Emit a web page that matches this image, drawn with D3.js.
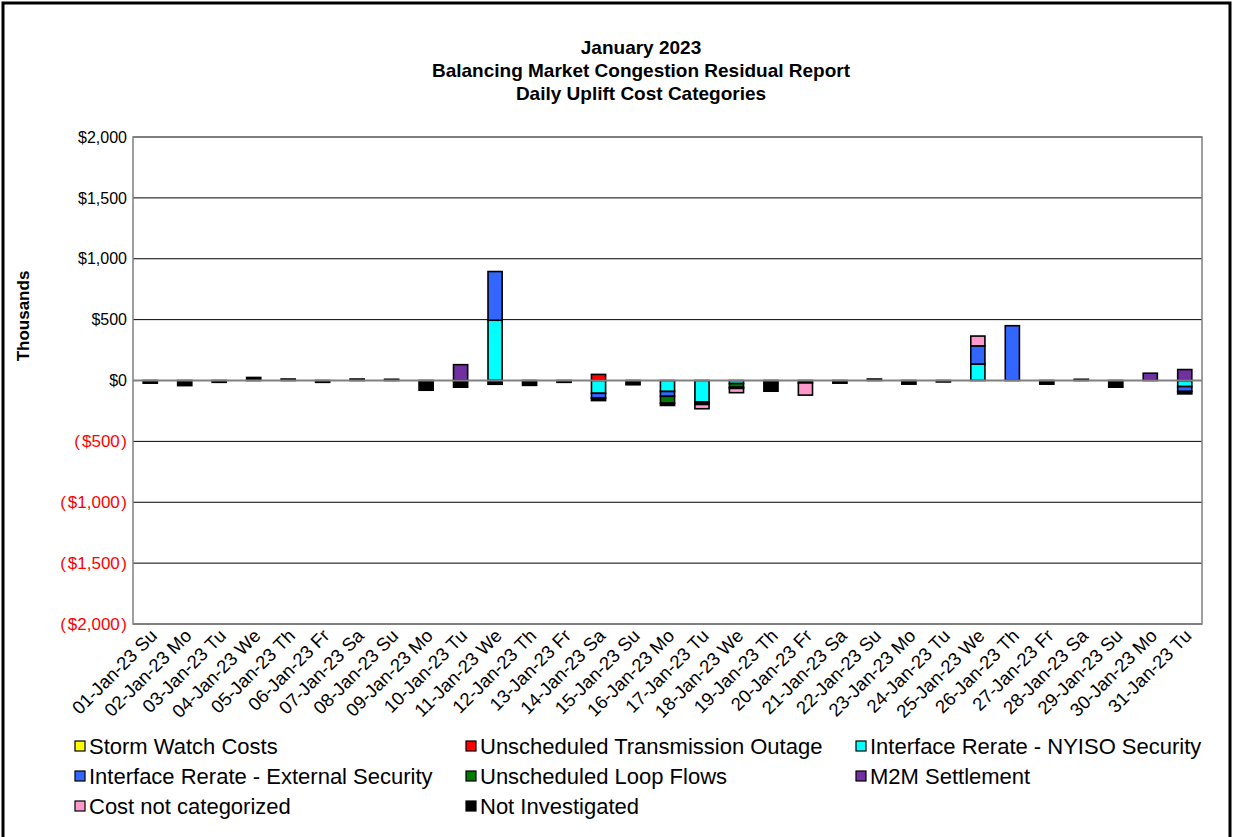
<!DOCTYPE html>
<html>
<head>
<meta charset="utf-8">
<script src="https://cdn.jsdelivr.net/npm/d3@7"></script>
<style>
  html, body { margin: 0; padding: 0; background: #fff; }
  svg { display: block; font-family: "Liberation Sans", Arial, sans-serif; }
</style>
</head>
<body>
<svg id="chart" width="1233" height="837"></svg>
<script>
// Daily uplift cost categories, January 2023 (values in $ thousands)
const days = [
  "01-Jan-23 Su","02-Jan-23 Mo","03-Jan-23 Tu","04-Jan-23 We","05-Jan-23 Th","06-Jan-23 Fr","07-Jan-23 Sa",
  "08-Jan-23 Su","09-Jan-23 Mo","10-Jan-23 Tu","11-Jan-23 We","12-Jan-23 Th","13-Jan-23 Fr","14-Jan-23 Sa",
  "15-Jan-23 Su","16-Jan-23 Mo","17-Jan-23 Tu","18-Jan-23 We","19-Jan-23 Th","20-Jan-23 Fr","21-Jan-23 Sa",
  "22-Jan-23 Su","23-Jan-23 Mo","24-Jan-23 Tu","25-Jan-23 We","26-Jan-23 Th","27-Jan-23 Fr","28-Jan-23 Sa",
  "29-Jan-23 Su","30-Jan-23 Mo","31-Jan-23 Tu"
];

const stormWatch     = [0,0,0,0,0,0,0,0,0,0,0,0,0,0,0,0,0,0,0,0,0,0,0,0,0,0,0,0,0,0,0];
const transOutage    = [0,0,0,0,0,0,0,0,0,0,0,0,0,50,0,0,0,0,0,0,0,0,0,0,0,0,0,0,0,0,0];
const nyisoSecurity  = [0,0,0,0,0,0,0,0,0,0,495,0,0,-105,0,-90,-175,-25,0,0,0,0,0,0,135,0,0,0,0,0,-50];
const extSecurity    = [0,0,0,0,0,0,0,0,0,0,400,0,0,-40,0,-40,0,0,0,0,0,0,0,0,150,450,0,0,0,0,-40];
const loopFlows      = [0,0,0,0,0,0,0,0,0,0,-6,0,0,0,0,-55,-12,-30,0,0,0,0,0,0,0,0,0,0,0,0,0];
const m2mSettlement  = [0,0,0,0,0,0,0,0,0,130,0,0,0,0,0,0,0,0,0,0,0,0,0,0,0,0,0,0,0,60,90];
const notCategorized = [0,0,0,0,0,0,0,0,0,0,0,0,0,0,0,0,-35,-35,0,-100,0,0,0,0,80,0,0,0,0,0,0];
const notInvestigated= [-22,-42,-15,25,12,-15,12,10,-80,-55,-25,-40,-15,-20,-35,-20,-10,-10,-88,-20,-22,12,-30,-12,0,0,-30,10,-55,0,-20];

const yTicks = [2000,1500,1000,500,0,-500,-1000,-1500,-2000];

const series = [
  { key: "storm",   name: "Storm Watch Costs",                    color: "#FFFF00", values: stormWatch },
  { key: "outage",  name: "Unscheduled Transmission Outage",      color: "#FF0000", values: transOutage },
  { key: "nyiso",   name: "Interface Rerate - NYISO Security",    color: "#00FFFF", values: nyisoSecurity },
  { key: "ext",     name: "Interface Rerate - External Security", color: "#3366FF", values: extSecurity },
  { key: "loop",    name: "Unscheduled Loop Flows",               color: "#007A00", values: loopFlows },
  { key: "m2m",     name: "M2M Settlement",                       color: "#7030A0", values: m2mSettlement },
  { key: "uncat",   name: "Cost not categorized",                 color: "#FF99CC", values: notCategorized },
  { key: "notinv",  name: "Not Investigated",                     color: "#000000", values: notInvestigated }
];

// stacking order for the columns
const stackKeys = ["storm","outage","nyiso","ext","loop","m2m","notinv","uncat"];

const rows = days.map((d, i) => {
  const r = { day: d };
  series.forEach(s => { r[s.key] = s.values[i]; });
  return r;
});

const svg = d3.select("#chart");
const W = 1233, H = 837;
const plot = { left: 133, right: 1202, top: 137, bottom: 624 };

// outer frame
svg.append("rect")
  .attr("x", 3).attr("y", 3).attr("width", W - 6).attr("height", H + 10)
  .attr("fill", "#fff").attr("stroke", "#000").attr("stroke-width", 3);

// titles
const titles = ["January 2023", "Balancing Market Congestion Residual Report", "Daily Uplift Cost Categories"];
svg.selectAll("text.title").data(titles).join("text")
  .attr("class", "title")
  .attr("x", 641).attr("y", (d, i) => 53.5 + i * 23)
  .attr("text-anchor", "middle")
  .attr("font-size", 19).attr("font-weight", "bold")
  .text(d => d);

const x = d3.scaleBand().domain(days).range([plot.left, plot.right]).paddingInner(0.59).paddingOuter(0.295);
const y = d3.scaleLinear().domain([-2000, 2000]).range([plot.bottom, plot.top]);

// gridlines
svg.append("g").selectAll("line").data(yTicks.filter(t => t !== 0)).join("line")
  .attr("x1", plot.left).attr("x2", plot.right)
  .attr("y1", d => y(d)).attr("y2", d => y(d))
  .attr("stroke", "#000").attr("stroke-width", 1);

// plot frame
svg.append("rect")
  .attr("x", plot.left).attr("y", plot.top)
  .attr("width", plot.right - plot.left).attr("height", plot.bottom - plot.top)
  .attr("fill", "none").attr("stroke", "#808080").attr("stroke-width", 1.5);

// y axis labels: accounting style, negatives in red parentheses
const yAxis = d3.axisLeft(y).tickValues(yTicks).tickFormat("").tickSize(0).tickPadding(6);
const gy = svg.append("g").attr("transform", `translate(${plot.left},0)`).call(yAxis);
gy.select(".domain").remove();
gy.selectAll(".tick text")
  .attr("font-family", "Liberation Sans, Arial, sans-serif")
  .attr("font-size", d => d < 0 ? 17 : 16)
  .attr("fill", d => d < 0 ? "#FF0000" : "#000")
  .each(function (d) {
    const t = d3.select(this);
    const s = "$" + d3.format(",")(Math.abs(d));
    if (d < 0) {
      t.append("tspan").text("(");
      t.append("tspan").attr("dx", 2).text(s);
      t.append("tspan").attr("dx", 1.5).text(")");
    } else {
      t.append("tspan").text(s);
    }
  });

svg.append("text")
  .attr("transform", "translate(29,316) rotate(-90)")
  .attr("text-anchor", "middle")
  .attr("font-size", 17).attr("font-weight", "bold")
  .text("Thousands");

// stacked columns
const stack = d3.stack().keys(stackKeys).offset(d3.stackOffsetDiverging);
const layers = stack(rows);
const colorOf = Object.fromEntries(series.map(s => [s.key, s.color]));

svg.append("g").selectAll("g").data(layers).join("g")
  .attr("fill", d => colorOf[d.key])
  .selectAll("rect").data(d => d.filter(p => p[1] !== p[0])).join("rect")
  .attr("x", d => x(d.data.day))
  .attr("width", x.bandwidth())
  .attr("y", d => y(Math.max(d[0], d[1])))
  .attr("height", d => Math.abs(y(d[0]) - y(d[1])))
  .attr("stroke", "#000").attr("stroke-width", 1.6);

// zero line
svg.append("line")
  .attr("x1", plot.left).attr("x2", plot.right)
  .attr("y1", y(0)).attr("y2", y(0))
  .attr("stroke", "#808080").attr("stroke-width", 2);

// x axis labels
const xAxis = d3.axisBottom(x).tickSize(0).tickPadding(0);
const gx = svg.append("g").attr("transform", `translate(0,${plot.bottom})`).call(xAxis);
gx.select(".domain").remove();
gx.selectAll("text")
  .attr("font-size", 18.5).attr("font-family", "Liberation Sans, Arial, sans-serif")
  .attr("text-anchor", "end")
  .attr("dy", null).attr("y", 0)
  .attr("transform", "translate(8,13) rotate(-45)");

// legend
const legendCols = [75, 466, 856];
const legend = svg.append("g").selectAll("g").data(series).join("g")
  .attr("transform", (d, i) => `translate(${legendCols[i % 3]},${746 + Math.floor(i / 3) * 30})`);
legend.append("rect")
  .attr("x", 0).attr("y", -5).attr("width", 10).attr("height", 10)
  .attr("fill", d => d.color).attr("stroke", "#000").attr("stroke-width", 1.2);
legend.append("text")
  .attr("x", 14).attr("y", 0).attr("dy", "0.35em")
  .attr("font-size", 22)
  .text(d => d.name);
</script>
</body>
</html>
